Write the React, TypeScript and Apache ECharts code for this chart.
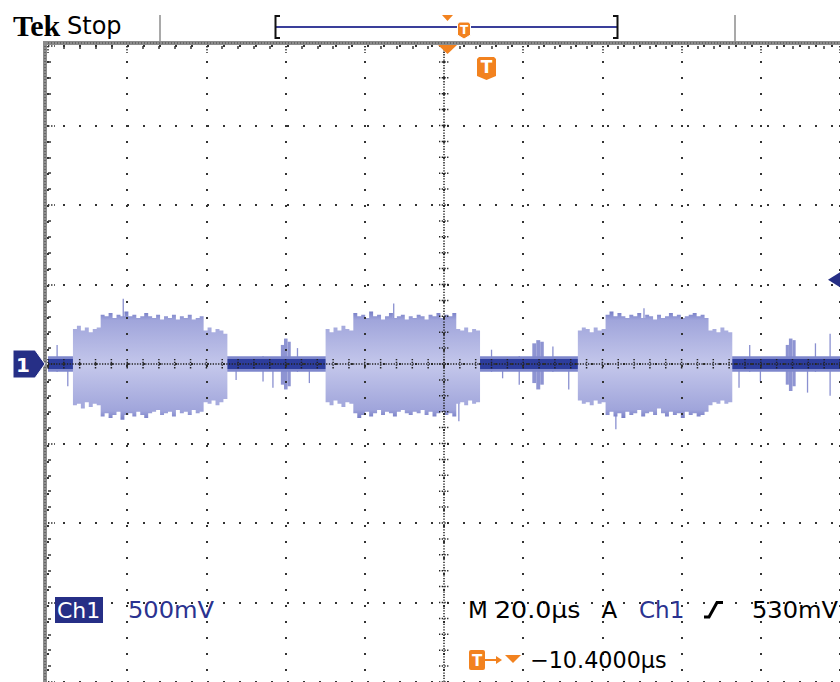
import React, { useEffect, useRef } from 'react';
import * as echarts from 'echarts';

// Scope settings: 20 µs/div (10 div), 500 mV/div (8 div)
const timeMin = 0;
const timeMax = 200;
const timeDiv = 20;
const voltMin = -2;
const voltMax = 2;
const voltDiv = 0.5;
const triggerLevel = 0.53;
const triggerTime = 100;

// Burst envelopes, one column per µs (volts)
const burst1Start = 6.3;
const burst1Hi = [0.22, 0.24, 0.21, 0.23, 0.2, 0.22, 0.23,
  0.31, 0.3, 0.32, 0.29, 0.31, 0.3, 0.33, 0.3, 0.31, 0.29, 0.3, 0.32, 0.3, 0.29, 0.31, 0.28, 0.3, 0.29, 0.31, 0.28, 0.3, 0.29, 0.31, 0.28, 0.29, 0.3,
  0.21, 0.23, 0.2, 0.22, 0.21, 0.19];
const burst1Lo = [-0.26, -0.25, -0.28, -0.24, -0.27, -0.25, -0.26,
  -0.33, -0.31, -0.34, -0.32, -0.3, -0.35, -0.32, -0.31, -0.33, -0.3, -0.32, -0.34, -0.31, -0.3, -0.29, -0.32, -0.31, -0.3, -0.33, -0.29, -0.31, -0.3, -0.32, -0.29, -0.31, -0.3,
  -0.24, -0.25, -0.23, -0.26, -0.24, -0.22];

const burst2Start = 70.1;
const burst2Hi = [0.22, 0.2, 0.23, 0.21, 0.24, 0.22, 0.21,
  0.32, 0.3, 0.31, 0.29, 0.33, 0.3, 0.31, 0.28, 0.3, 0.32, 0.29, 0.3, 0.31, 0.28, 0.3, 0.29, 0.31, 0.3, 0.28, 0.31, 0.3, 0.32, 0.29, 0.31, 0.3, 0.32,
  0.22, 0.21, 0.23, 0.2, 0.22, 0.21];
const burst2Lo = [-0.24, -0.26, -0.23, -0.25, -0.27, -0.24, -0.25,
  -0.31, -0.34, -0.32, -0.3, -0.33, -0.31, -0.29, -0.32, -0.3, -0.31, -0.33, -0.3, -0.29, -0.31, -0.32, -0.3, -0.31, -0.29, -0.32, -0.3, -0.33, -0.31, -0.3, -0.32, -0.31, -0.33,
  -0.25, -0.24, -0.26, -0.23, -0.25, -0.24];

const burst3Start = 133.8;
const burst3Hi = [0.21, 0.23, 0.22, 0.2, 0.23, 0.21, 0.22,
  0.31, 0.33, 0.3, 0.32, 0.3, 0.29, 0.31, 0.3, 0.32, 0.29, 0.31, 0.3, 0.28, 0.31, 0.29, 0.3, 0.32, 0.3, 0.31, 0.29, 0.3, 0.31, 0.32, 0.3, 0.31, 0.29,
  0.21, 0.22, 0.2, 0.23, 0.21, 0.2];
const burst3Lo = [-0.23, -0.25, -0.24, -0.26, -0.23, -0.25, -0.24,
  -0.32, -0.3, -0.33, -0.31, -0.34, -0.3, -0.32, -0.31, -0.29, -0.33, -0.31, -0.3, -0.32, -0.28, -0.31, -0.33, -0.3, -0.32, -0.31, -0.34, -0.3, -0.32, -0.31, -0.33, -0.32, -0.3,
  -0.26, -0.24, -0.25, -0.23, -0.25, -0.24];

const burstStarts = [burst1Start, burst2Start, burst3Start];
const burstHis = [burst1Hi, burst2Hi, burst3Hi];
const burstLos = [burst1Lo, burst2Lo, burst3Lo];

// Short blips between bursts: [t0, t1, lo, hi]
const blips = [
  [58.8, 59.6, -0.13, 0.12], [59.6, 60.5, -0.16, 0.16], [60.5, 61.3, -0.14, 0.14],
  [122.3, 123.3, -0.12, 0.13], [123.3, 124.3, -0.16, 0.15], [124.3, 125.2, -0.13, 0.14],
  [186.3, 187.1, -0.13, 0.12], [187.1, 188.0, -0.17, 0.16], [188.0, 188.8, -0.14, 0.15],
];

// Baseline noise band [t0, t1, lo, hi]
const baselineHalo = [[0, 200, -0.048, 0.048]];
const baselineCore = [[0, 200, -0.032, 0.032]];

// Glitch spikes [t, lo, hi]
const spikes = [
  [2.3, -0.05, 0.12], [5.0, -0.14, 0.04], [19.0, -0.3, 0.41], [47.5, -0.1, 0.04], [54.3, -0.11, 0.05],
  [56.8, -0.15, 0.04], [63.0, -0.05, 0.1], [66.0, -0.12, 0.04], [87.3, -0.3, 0.38], [103.75, -0.36, 0.2],
  [112.0, -0.05, 0.09], [114.8, -0.09, 0.04], [119.0, -0.13, 0.05], [127.5, -0.05, 0.11], [131.5, -0.16, 0.04],
  [143.4, -0.41, 0.2], [150.5, -0.3, 0.35], [174.5, -0.15, 0.04], [177.2, -0.05, 0.12], [179.9, -0.11, 0.04],
  [191.8, -0.18, 0.04], [193.8, -0.05, 0.13], [197.5, -0.2, 0.19],
];

const NAVY = '#262f86';
const ORANGE = '#f2821f';
const FONT = '"DejaVu Sans", sans-serif';

const burstGradient = () =>
  new echarts.graphic.LinearGradient(0, 0, 0, 1, [
    { offset: 0, color: '#767dc6' },
    { offset: 0.08, color: '#a0a5db' },
    { offset: 0.5, color: '#c4c7eb' },
    { offset: 0.92, color: '#a0a5db' },
    { offset: 1, color: '#767dc6' },
  ]);

const colRender = (fill: string) => (params: any, api: any) => {
  const p0 = api.coord([api.value(0), api.value(3)]);
  const p1 = api.coord([api.value(1), api.value(2)]);
  return {
    type: 'rect',
    shape: { x: p0[0], y: p0[1], width: p1[0] - p0[0], height: p1[1] - p0[1] },
    style: { fill },
  };
};

const shield = (cx: number, top: number, w: number, h: number) => [
  [cx - w / 2, top + 2], [cx - w / 2 + 2, top], [cx + w / 2 - 2, top], [cx + w / 2, top + 2],
  [cx + w / 2, top + h - 4], [cx, top + h], [cx - w / 2, top + h - 4],
];

const txt = (text: string, x: number, y: number, fill: string, font: string, scaleX = 1, align = 'left') => ({
  type: 'text', x, y, scaleX, z: 100,
  style: { text, fill, font, textAlign: align, align, textVerticalAlign: 'middle', verticalAlign: 'middle' },
});

export default function App() {
  const ref = useRef<HTMLDivElement>(null);
  useEffect(() => {
    const chart = echarts.init(ref.current!, undefined, { renderer: 'svg' });
    const axisTickStyle = { color: '#333', width: 1.5 };
    chart.setOption({
      animation: false,
      backgroundColor: '#ffffff',
      grid: { left: 48, top: 46, width: 800, height: 640, show: false },
      xAxis: {
        type: 'value', min: timeMin, max: timeMax, interval: timeDiv, position: 'top', z: 10,
        axisLine: { show: false, onZero: false },
        axisTick: { show: true, inside: true, length: 7, lineStyle: { ...axisTickStyle, type: [1.5, 1.5] } },
        minorTick: { show: true, splitNumber: 5, length: 3, lineStyle: axisTickStyle },
        axisLabel: { show: false },
        splitLine: { show: true, lineStyle: { color: '#333', width: 2, type: [2, 14], dashOffset: 1 } },
      },
      yAxis: {
        type: 'value', min: voltMin, max: voltMax, interval: voltDiv, position: 'left', z: 10,
        axisLine: { show: false, onZero: false },
        axisTick: { show: true, inside: true, length: 7, lineStyle: { ...axisTickStyle, type: [1.5, 1.5] } },
        minorTick: { show: true, splitNumber: 5, length: 3, lineStyle: axisTickStyle },
        axisLabel: { show: false },
        splitLine: { show: true, lineStyle: { color: '#333', width: 2, type: [2, 14], dashOffset: 1 } },
      },
      series: [
        {
          type: 'custom', name: 'blips', z: 2, silent: true, encode: { x: [0, 1], y: [2, 3] },
          data: blips, renderItem: colRender('#8e94d2'),
        },
        {
          type: 'custom', name: 'spikes', z: 2, silent: true, encode: { x: 0, y: [1, 2] },
          data: spikes,
          renderItem: (params: any, api: any) => {
            const a = api.coord([api.value(0), api.value(1)]);
            const b = api.coord([api.value(0), api.value(2)]);
            return { type: 'line', shape: { x1: a[0], y1: a[1], x2: b[0], y2: b[1] }, style: { stroke: '#8a90d0', lineWidth: 1.3 } };
          },
        },
        {
          type: 'custom', name: 'halo', z: 3, silent: true, encode: { x: [0, 1], y: [2, 3] },
          data: baselineHalo, renderItem: colRender('#7e87cc'),
        },
        {
          type: 'custom', name: 'baseline', z: 3, silent: true, encode: { x: [0, 1], y: [2, 3] },
          data: baselineCore, renderItem: colRender('#2d3d9d'),
        },
        {
          type: 'custom', name: 'bursts', z: 4, silent: true, encode: { x: 0, y: 1 },
          data: burstStarts.map((s, i) => [s, i]),
          renderItem: (params: any, api: any) => {
            const idx = api.value(1);
            const start = api.value(0);
            const hi = burstHis[idx];
            const lo = burstLos[idx];
            const pts: number[][] = [];
            for (let i = 0; i < hi.length; i++) {
              pts.push(api.coord([start + i, hi[i]]));
              pts.push(api.coord([start + i + 1, hi[i]]));
            }
            for (let i = lo.length - 1; i >= 0; i--) {
              pts.push(api.coord([start + i + 1, lo[i]]));
              pts.push(api.coord([start + i, lo[i]]));
            }
            return { type: 'polygon', shape: { points: pts }, style: { fill: burstGradient() } };
          },
        },
        {
          type: 'custom', name: 'crosshair', z: 11, silent: true, data: [[triggerTime, 0]],
          renderItem: (params: any, api: any) => {
            const children: any[] = [];
            const dot = { stroke: '#222', lineWidth: 1.5, lineDash: [1.3, 1.4] };
            const l = api.coord([timeMin, 0]);
            const r = api.coord([timeMax, 0]);
            const t = api.coord([triggerTime, voltMax]);
            const b = api.coord([triggerTime, voltMin]);
            children.push({ type: 'line', shape: { x1: l[0], y1: l[1], x2: r[0], y2: r[1] }, style: dot });
            children.push({ type: 'line', shape: { x1: t[0], y1: t[1], x2: b[0], y2: b[1] }, style: dot });
            for (let k = 0; k <= 50; k++) {
              const p = api.coord([timeMin + k * 4, 0]);
              children.push({ type: 'line', shape: { x1: p[0], y1: p[1] - 5, x2: p[0], y2: p[1] + 5 }, style: dot });
            }
            for (let k = 0; k <= 40; k++) {
              const p = api.coord([triggerTime, voltMin + k * 0.1]);
              children.push({ type: 'line', shape: { x1: p[0] - 5, y1: p[1], x2: p[0] + 5, y2: p[1] }, style: dot });
            }
            return { type: 'group', children };
          },
        },
      ],
    });

    const gnd = chart.convertToPixel({ gridIndex: 0 }, [timeMin, 0]) as number[];
    const trig = chart.convertToPixel({ gridIndex: 0 }, [timeMax, triggerLevel]) as number[];
    const gy = gnd[1];
    const ty = trig[1];

    chart.setOption({
      graphic: [
        // frame bands
        { type: 'rect', shape: { x: 43, y: 41, width: 800, height: 4 }, style: { fill: '#8c8c8c' }, z: 50 },
        { type: 'rect', shape: { x: 43, y: 41, width: 4, height: 645 }, style: { fill: '#8c8c8c' }, z: 50 },
        { type: 'line', shape: { x1: 48, y1: 43, x2: 840, y2: 43 }, style: { stroke: '#666', lineWidth: 2, lineDash: [1, 2] }, z: 51 },
        { type: 'line', shape: { x1: 45, y1: 46, x2: 45, y2: 682 }, style: { stroke: '#666', lineWidth: 2, lineDash: [1, 2] }, z: 51 },
        // header
        txt('Tek', 13, 25, '#000', 'bold 30px "Liberation Serif", serif'),
        txt('Stop', 67, 26, '#000', '24px ' + FONT),
        { type: 'line', shape: { x1: 160, y1: 15, x2: 160, y2: 41 }, style: { stroke: '#8c8c8c', lineWidth: 1.5 }, z: 50 },
        { type: 'line', shape: { x1: 735, y1: 15, x2: 735, y2: 41 }, style: { stroke: '#8c8c8c', lineWidth: 1.5 }, z: 50 },
        { type: 'line', shape: { x1: 275, y1: 27, x2: 618, y2: 27 }, style: { stroke: '#3a3f9a', lineWidth: 2 }, z: 50 },
        { type: 'polyline', shape: { points: [[280, 16], [275.5, 16], [275.5, 38], [280, 38]] }, style: { stroke: '#111', lineWidth: 2, fill: 'none' }, z: 51 },
        { type: 'polyline', shape: { points: [[613, 16], [617.5, 16], [617.5, 38], [613, 38]] }, style: { stroke: '#111', lineWidth: 2, fill: 'none' }, z: 51 },
        { type: 'polygon', shape: { points: [[442, 15], [453, 15], [447.5, 21]] }, style: { fill: ORANGE }, z: 52 },
        { type: 'polygon', shape: { points: shield(464, 22, 13, 17) }, style: { fill: ORANGE, stroke: '#fff', lineWidth: 1 }, z: 52 },
        txt('T', 464, 30, '#fff', 'bold 12px ' + FONT, 1, 'center'),
        // trigger position markers
        { type: 'polygon', shape: { points: [[438, 45], [457, 45], [447.5, 54]] }, style: { fill: ORANGE }, z: 60 },
        { type: 'polygon', shape: { points: shield(486.5, 57, 19, 23) }, style: { fill: ORANGE }, z: 60 },
        txt('T', 486.5, 67, '#fff', 'bold 17px ' + FONT, 1, 'center'),
        // ground marker
        { type: 'polygon', shape: { points: [[13, gy - 14], [35, gy - 14], [45, gy], [35, gy + 14], [13, gy + 14]] }, style: { fill: NAVY, stroke: '#fff', lineWidth: 1 }, z: 60 },
        txt('1', 23, gy + 1, '#fff', 'bold 20px ' + FONT, 1, 'center'),
        // trigger level marker
        { type: 'polygon', shape: { points: [[828, ty], [840, ty - 7.5], [840, ty + 7.5]] }, style: { fill: NAVY }, z: 60 },
        // bottom readouts
        { type: 'rect', shape: { x: 55, y: 597, width: 48, height: 26 }, style: { fill: NAVY }, z: 60 },
        txt('Ch1', 57, 610, '#fff', '22px ' + FONT),
        txt('500mV', 128, 610, '#2a3290', '23px ' + FONT, 1.05),
        txt('M', 468, 610, '#000', '23px ' + FONT),
        txt('20.0µs', 495, 610, '#000', '23px ' + FONT, 1.1),
        txt('A', 601.5, 610, '#000', '23px ' + FONT),
        txt('Ch1', 639, 610, '#2a3290', '23px ' + FONT),
        { type: 'polyline', shape: { points: [[704, 617], [709, 617], [717, 602.5], [723, 602.5]] }, style: { stroke: '#000', lineWidth: 3, fill: 'none' }, z: 60 },
        txt('530mV', 752, 610, '#000', '23px ' + FONT, 1.05),
        { type: 'rect', shape: { x: 469, y: 650, width: 16, height: 20, r: 2 }, style: { fill: ORANGE }, z: 60 },
        txt('T', 477, 660.5, '#fff', 'bold 15px ' + FONT, 1, 'center'),
        { type: 'line', shape: { x1: 485, y1: 660, x2: 497, y2: 660 }, style: { stroke: ORANGE, lineWidth: 2 }, z: 60 },
        { type: 'polygon', shape: { points: [[496, 656], [502, 660], [496, 664]] }, style: { fill: ORANGE }, z: 60 },
        { type: 'polygon', shape: { points: [[505, 655], [521, 655], [513, 663]] }, style: { fill: ORANGE }, z: 60 },
        txt('−10.4000µs', 530, 660, '#000', '23px ' + FONT, 0.97),
      ],
    });
    return () => chart.dispose();
  }, []);
  return <div ref={ref} style={{ position: 'absolute', left: 0, top: 0, width: 840, height: 682 }} />;
}
